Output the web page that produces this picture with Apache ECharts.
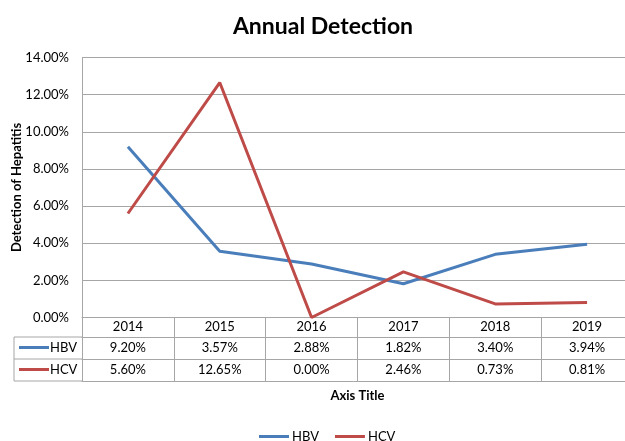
<!DOCTYPE html>
<html><head><meta charset="utf-8">
<script src="https://cdn.jsdelivr.net/npm/echarts@6/dist/echarts.min.js"></script>
<style>html,body{margin:0;padding:0;background:#fff}#c{width:625px;height:441px}</style>
</head><body><div id="c"></div>
<script>
var years = ['2014','2015','2016','2017','2018','2019'];
var hbv = [0.0920, 0.0357, 0.0288, 0.0182, 0.0340, 0.0394];
var hcv = [0.0560, 0.1265, 0.0000, 0.0246, 0.0073, 0.0081];
var yTicks = {min: 0, max: 0.14, interval: 0.02};

var FONT = 'Lato';
var GRAY = '#a6a6a6';
var BLUE = '#4A7EBB';
var RED = '#BE4B48';
function pct(v){ return (v*100).toFixed(2) + '%'; }

var G = {left: 82, top: 57.5, width: 551, height: 260, outerBoundsMode: 'none', containLabel: false};
var rowOff = [0, 19.5, 41.5, 63.5];

var chart = echarts.init(document.getElementById('c'), null, {renderer: 'canvas'});
var txt = {fontFamily: FONT, fontSize: 13, color: '#000'};

function tableAxis(data, off, showLabel, margin, extra) {
  var a = {
    type: 'category', position: 'bottom', offset: off, data: data, gridIndex: 0,
    boundaryGap: true,
    axisLine: {show: true, lineStyle: {color: GRAY, width: 1}},
    axisTick: {show: false},
    axisLabel: Object.assign({show: showLabel, interval: 0, verticalAlign: 'middle', margin: margin, hideOverlap: false}, txt),
    splitLine: {show: false}
  };
  return Object.assign(a, extra || {});
}

var option = {
  animation: false,
  backgroundColor: '#fff',
  title: {
    text: 'Annual Detection', left: 318, top: 10, textAlign: 'center',
    textStyle: {fontFamily: FONT, fontSize: 23, fontWeight: 'bold', color: '#000'}
  },
  grid: G,
  legend: [
    {data: ['HBV','HCV'], left: 254, top: 425, selectedMode: false, itemWidth: 30, itemHeight: 3, itemGap: 16,
     icon: 'rect', textStyle: {fontFamily: FONT, fontSize: 13, color: '#000', padding: [0,0,0,-2]}},
    {data: ['HBV'], left: 14, top: 341, selectedMode: false, itemWidth: 30, itemHeight: 3, icon: 'rect', padding: [0,0,0,5],
     textStyle: {fontFamily: FONT, fontSize: 13, color: '#000', padding: [0,0,0,-4]}},
    {data: ['HCV'], left: 14, top: 363, selectedMode: false, itemWidth: 30, itemHeight: 3, icon: 'rect', padding: [0,0,0,5],
     textStyle: {fontFamily: FONT, fontSize: 13, color: '#000', padding: [0,0,0,-4]}}
  ],
  xAxis: [
    tableAxis(years, rowOff[0], true, 9.75, {
      axisTick: {show: true, interval: 0, length: rowOff[3], lineStyle: {color: GRAY, width: 1}}
    }),
    tableAxis(hbv.map(pct), rowOff[1], true, 11),
    tableAxis(hcv.map(pct), rowOff[2], true, 11),
    tableAxis(years, rowOff[3], false, 0, {
      name: 'Axis Title', nameLocation: 'middle', nameGap: 8, nameMoveOverlap: false,
      nameTextStyle: {fontFamily: FONT, fontSize: 13, fontWeight: 'bold', color: '#000', verticalAlign: 'top'}
    })
  ],
  yAxis: {
    type: 'value', min: yTicks.min, max: yTicks.max, interval: yTicks.interval,
    name: 'Detection of Hepatitis', nameLocation: 'middle', nameGap: 59, nameRotate: 90, nameMoveOverlap: false,
    nameTextStyle: {fontFamily: FONT, fontSize: 13, fontWeight: 'bold', color: '#000'},
    axisLine: {show: true, lineStyle: {color: GRAY, width: 1}},
    axisTick: {show: false},
    axisLabel: Object.assign({margin: 13, formatter: function(v){ return pct(v); }}, txt),
    splitLine: {show: true, lineStyle: {color: GRAY, width: 1}}
  },
  series: [
    {name: 'HBV', type: 'line', data: hbv, symbol: 'none', itemStyle: {color: BLUE},
     lineStyle: {color: BLUE, width: 3}},
    {name: 'HCV', type: 'line', data: hcv, symbol: 'none', itemStyle: {color: RED},
     lineStyle: {color: RED, width: 3}}
  ]
};
chart.setOption(option);

// left stub borders of the data table
var x0 = 14, x1 = G.left, yb = G.top + G.height;
var st = {stroke: GRAY, lineWidth: 1};
chart.setOption({graphic: [
  {type: 'line', shape: {x1: x0, y1: yb + rowOff[1], x2: x1, y2: yb + rowOff[1]}, style: st, silent: true},
  {type: 'line', shape: {x1: x0, y1: yb + rowOff[2], x2: x1, y2: yb + rowOff[2]}, style: st, silent: true},
  {type: 'line', shape: {x1: x0, y1: yb + rowOff[3], x2: x1, y2: yb + rowOff[3]}, style: st, silent: true},
  {type: 'line', shape: {x1: x0, y1: yb + rowOff[1], x2: x0, y2: yb + rowOff[3]}, style: st, silent: true}
]});
</script></body></html>
